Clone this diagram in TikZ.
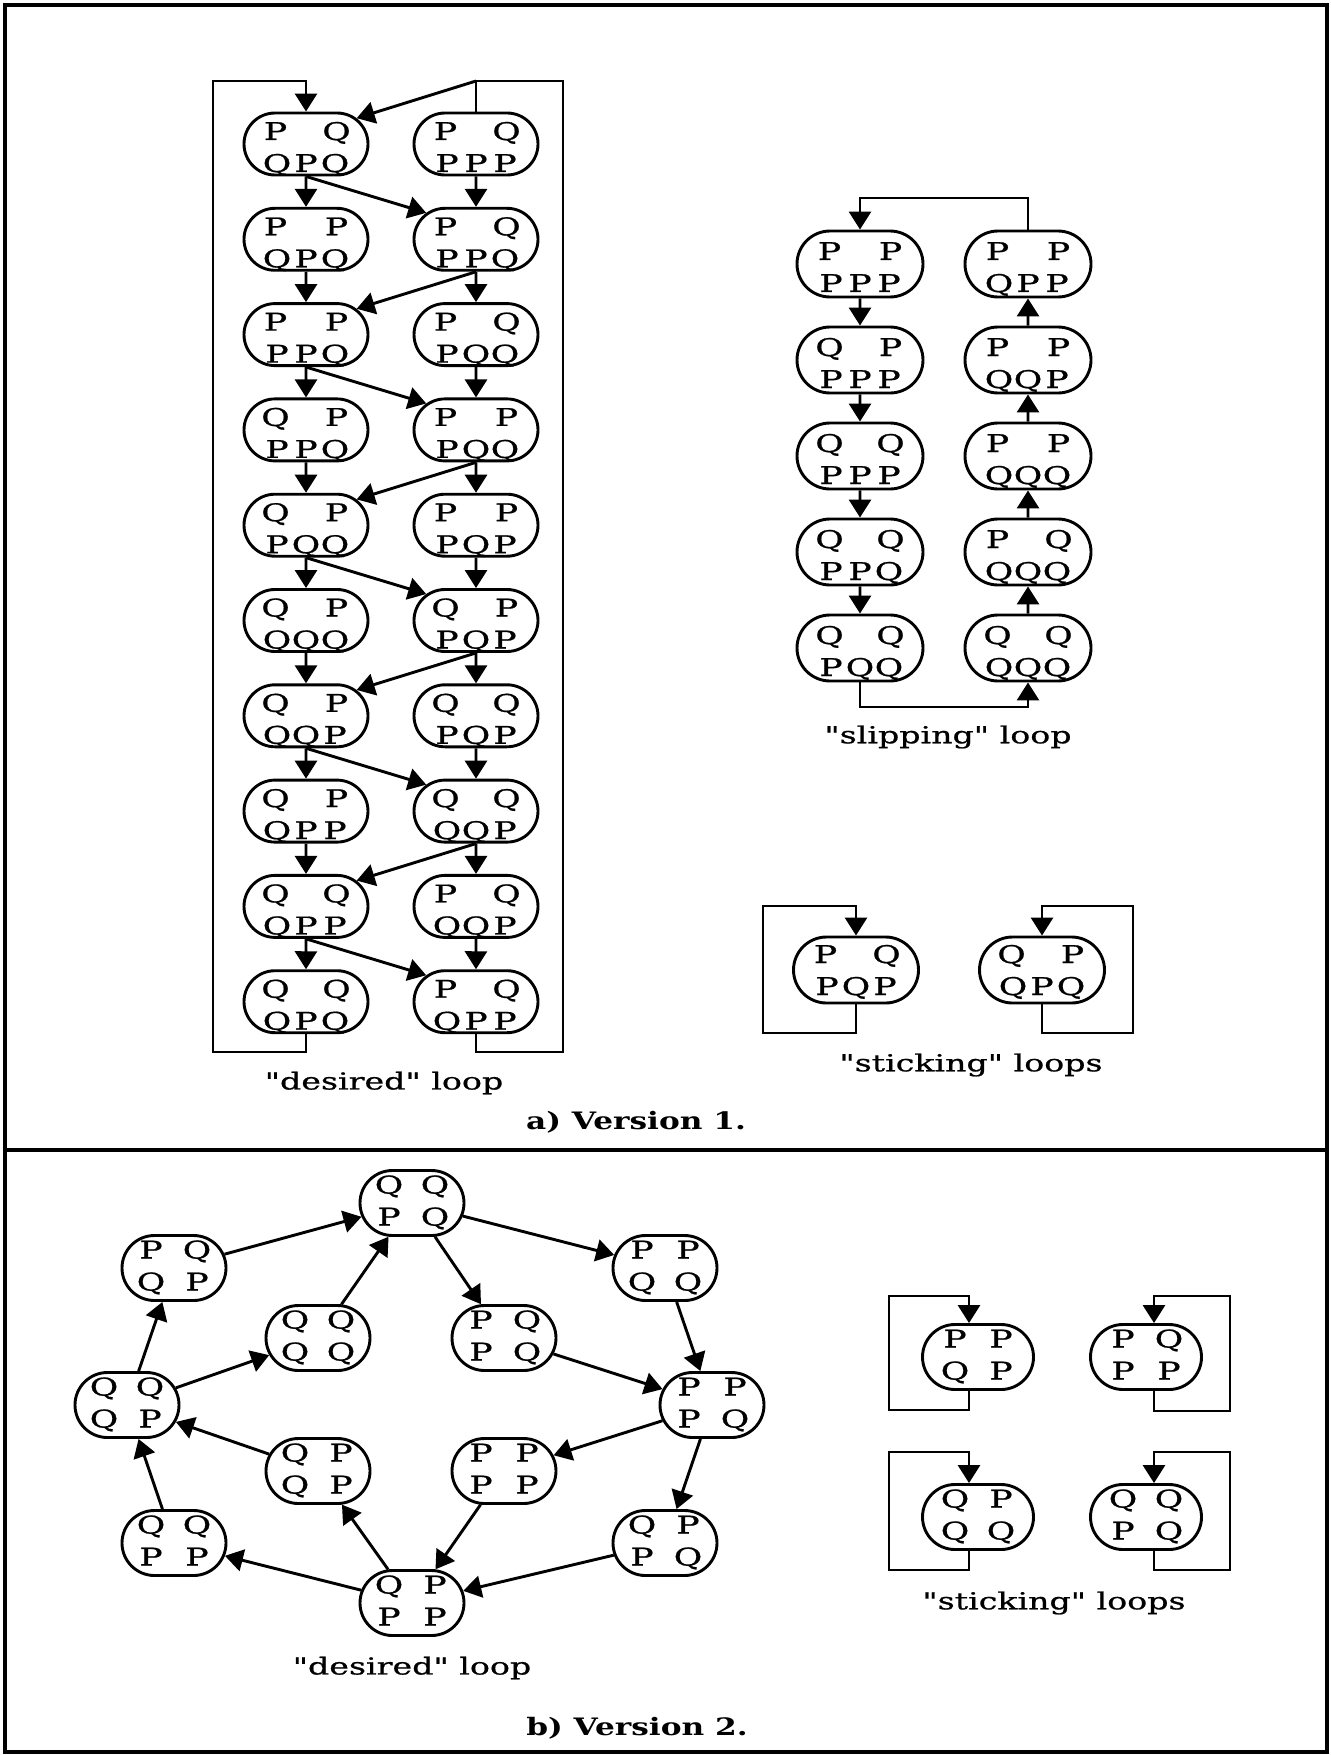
\documentclass[tikz,border=0pt]{standalone}
\usepackage{fontspec}
\setmainfont{DejaVu Serif}[FakeStretch=1.42, FakeBold=0.8, Ligatures=TeXOff]
\newfontfamily\ttlfont{DejaVu Serif}[FakeStretch=1.3, Ligatures=TeXOff]
\usetikzlibrary{arrows.meta,shapes.misc}
\newcommand{\cA}[1]{\makebox[14.5pt]{#1}}
\newcommand{\cAt}[1]{\makebox[16pt]{#1}}
\newcommand{\cB}[1]{\makebox[23pt]{#1}}
\newcommand{\stIII}[8]{\vbox to #2{\offinterlineskip\kern#3\hbox to #1{\hss\smash{\cAt{#4}\cA{}\cAt{#5}}\hss}\kern16pt\hbox to #1{\hss\smash{\cA{#6}\cA{#7}\cA{#8}}\hss}\vss}}
\newcommand{\stII}[7]{\vbox to #2{\offinterlineskip\kern#3\hbox to #1{\hss\smash{\cB{#4}\cB{#5}}\hss}\kern16pt\hbox to #1{\hss\smash{\cB{#6}\cB{#7}}\hss}\vss}}
\newcommand{\da}[5]{\stIII{31pt}{31pt}{13.5pt}{#1}{#2}{#3}{#4}{#5}}
\newcommand{\slp}[5]{\stIII{30pt}{33pt}{14.5pt}{#1}{#2}{#3}{#4}{#5}}
\newcommand{\sta}[5]{\stIII{29.5pt}{33pt}{13pt}{#1}{#2}{#3}{#4}{#5}}
\newcommand{\rb}[4]{\stII{19.5pt}{32.5pt}{11.5pt}{#1}{#2}{#3}{#4}}
\newcommand{\kb}[4]{\stII{23pt}{32.5pt}{11.5pt}{#1}{#2}{#3}{#4}}
\begin{document}
\begin{tikzpicture}[x=0.5pt,y=-0.5pt,
  >={Triangle[length=9pt,width=11pt]},
  state/.style={draw, rounded rectangle, inner sep=0pt, line width=1.45pt,
    font=\fontsize{12.2}{14}\selectfont},
  conn/.style={line width=1.45pt, line join=miter},
  arr/.style={conn,->},
  lbl/.style={inner sep=0pt, font=\fontsize{11.7}{14}\selectfont},
  ttl/.style={inner sep=0pt, font=\ttlfont\bfseries\fontsize{12}{14}\selectfont}]
\useasboundingbox (0,0) rectangle (1331,1755);
\draw[line width=1.7pt] (5,5) rectangle (1327,1752);
\draw[line width=1.7pt] (5,1150) -- (1327,1150);

% ---------- a) desired loop ----------
\node[state] (L1) at (306,144.0) {\da{P}{Q}{Q}{P}{Q}};
\node[state] (R1) at (476,144.0) {\da{P}{Q}{P}{P}{P}};
\node[state] (L2) at (306,239.3) {\da{P}{P}{Q}{P}{Q}};
\node[state] (R2) at (476,239.3) {\da{P}{Q}{P}{P}{Q}};
\node[state] (L3) at (306,334.6) {\da{P}{P}{P}{P}{Q}};
\node[state] (R3) at (476,334.6) {\da{P}{Q}{P}{Q}{Q}};
\node[state] (L4) at (306,429.9) {\da{Q}{P}{P}{P}{Q}};
\node[state] (R4) at (476,429.9) {\da{P}{P}{P}{Q}{Q}};
\node[state] (L5) at (306,525.2) {\da{Q}{P}{P}{Q}{Q}};
\node[state] (R5) at (476,525.2) {\da{P}{P}{P}{Q}{P}};
\node[state] (L6) at (306,620.5) {\da{Q}{P}{Q}{Q}{Q}};
\node[state] (R6) at (476,620.5) {\da{Q}{P}{P}{Q}{P}};
\node[state] (L7) at (306,715.8) {\da{Q}{P}{Q}{Q}{P}};
\node[state] (R7) at (476,715.8) {\da{Q}{Q}{P}{Q}{P}};
\node[state] (L8) at (306,811.1) {\da{Q}{P}{Q}{P}{P}};
\node[state] (R8) at (476,811.1) {\da{Q}{Q}{Q}{Q}{P}};
\node[state] (L9) at (306,906.4) {\da{Q}{Q}{Q}{P}{P}};
\node[state] (R9) at (476,906.4) {\da{P}{Q}{Q}{Q}{P}};
\node[state] (L10) at (306,1001.7) {\da{Q}{Q}{Q}{P}{Q}};
\node[state] (R10) at (476,1001.7) {\da{P}{Q}{Q}{P}{P}};
\foreach \i [count=\j from 2] in {1,...,9}{
  \draw[arr] (L\i) -- (L\j);
  \draw[arr] (R\i) -- (R\j);
}
\draw[arr] (L1.south) -- (R2.152);
\draw[arr] (R2.south) -- (L3.27);
\draw[arr] (L3.south) -- (R4.152);
\draw[arr] (R4.south) -- (L5.27);
\draw[arr] (L5.south) -- (R6.152);
\draw[arr] (R6.south) -- (L7.27);
\draw[arr] (L7.south) -- (R8.152);
\draw[arr] (R8.south) -- (L9.27);
\draw[arr] (L9.south) -- (R10.152);
\coordinate (aBL) at (213,1052);
\coordinate (aTL) at (213,81);
\coordinate (aBR) at (563,1052);
\coordinate (aTR) at (563,81);
\coordinate (jR) at (476,81);
\draw[arr] (L10.south) |- (aBL) -- (aTL) -| (L1.north);
\draw[conn] (R10.south) |- (aBR) -- (aTR) -| (R1.north);
\draw[arr] (jR) -- (L1.27);
\node[lbl] (lda) at (384,1083) {"desired" loop};

% ---------- a) slipping loop ----------
\node[state] (S1) at (860,264) {\slp{P}{P}{P}{P}{P}};
\node[state] (S2) at (860,360) {\slp{Q}{P}{P}{P}{P}};
\node[state] (S3) at (860,456) {\slp{Q}{Q}{P}{P}{P}};
\node[state] (S4) at (860,552) {\slp{Q}{Q}{P}{P}{Q}};
\node[state] (S5) at (860,648) {\slp{Q}{Q}{P}{Q}{Q}};
\node[state] (T1) at (1028,264) {\slp{P}{P}{Q}{P}{P}};
\node[state] (T2) at (1028,360) {\slp{P}{P}{Q}{Q}{P}};
\node[state] (T3) at (1028,456) {\slp{P}{P}{Q}{Q}{Q}};
\node[state] (T4) at (1028,552) {\slp{P}{Q}{Q}{Q}{Q}};
\node[state] (T5) at (1028,648) {\slp{Q}{Q}{Q}{Q}{Q}};
\draw[arr] (S1) -- (S2);
\draw[arr] (S2) -- (S3);
\draw[arr] (S3) -- (S4);
\draw[arr] (S4) -- (S5);
\draw[arr] (T5) -- (T4);
\draw[arr] (T4) -- (T3);
\draw[arr] (T3) -- (T2);
\draw[arr] (T2) -- (T1);
\coordinate (sTL) at (860,198);
\coordinate (sBR) at (1028,707);
\draw[arr] (T1.north) |- (sTL) -- (S1.north);
\draw[arr] (S5.south) |- (sBR) -- (T5.south);
\node[lbl] (lsl) at (948,737) {"slipping" loop};

% ---------- a) sticking loops ----------
\node[state] (K1) at (856,970) {\sta{P}{Q}{P}{Q}{P}};
\node[state] (K2) at (1042,970) {\sta{Q}{P}{Q}{P}{Q}};
\coordinate (kB1) at (763,1033);
\coordinate (kT1) at (763,906);
\coordinate (kB2) at (1133,1033);
\coordinate (kT2) at (1133,906);
\draw[arr] (K1.south) |- (kB1) -- (kT1) -| (K1.north);
\draw[arr] (K2.south) |- (kB2) -- (kT2) -| (K2.north);
\node[lbl] (lsa) at (971,1065) {"sticking" loops};

\node[ttl] (ta) at (636,1122) {a) Version 1.};

% ---------- b) desired loop ----------
\node[state] (B1) at (412,1203) {\rb{Q}{Q}{P}{Q}};
\node[state] (B2) at (174,1268) {\rb{P}{Q}{Q}{P}};
\node[state] (B3) at (665,1268) {\rb{P}{P}{Q}{Q}};
\node[state] (B4) at (318,1338) {\rb{Q}{Q}{Q}{Q}};
\node[state] (B5) at (504,1338) {\rb{P}{Q}{P}{Q}};
\node[state] (B6) at (127,1405) {\rb{Q}{Q}{Q}{P}};
\node[state] (B7) at (712,1405) {\rb{P}{P}{P}{Q}};
\node[state] (B8) at (318,1471) {\rb{Q}{P}{Q}{P}};
\node[state] (B9) at (504,1471) {\rb{P}{P}{P}{P}};
\node[state] (B10) at (174,1543) {\rb{Q}{Q}{P}{P}};
\node[state] (B11) at (665,1543) {\rb{Q}{P}{P}{Q}};
\node[state] (B12) at (412,1603) {\rb{Q}{P}{P}{P}};
\draw[arr] (B2) -- (B1);
\draw[arr] (B1) -- (B3);
\draw[arr] (B3) -- (B7);
\draw[arr] (B7) -- (B11);
\draw[arr] (B11) -- (B12);
\draw[arr] (B12) -- (B10);
\draw[arr] (B10) -- (B6);
\draw[arr] (B6) -- (B2);
\draw[arr] (B6) -- (B4);
\draw[arr] (B4) -- (B1);
\draw[arr] (B1) -- (B5);
\draw[arr] (B5) -- (B7);
\draw[arr] (B7) -- (B9);
\draw[arr] (B9) -- (B12);
\draw[arr] (B12) -- (B8);
\draw[arr] (B8) -- (B6);
\node[lbl] (ldb) at (412,1668) {"desired" loop};

% ---------- b) sticking loops ----------
\node[state] (M1) at (978,1357) {\kb{P}{P}{Q}{P}};
\node[state] (M2) at (1146,1357) {\kb{P}{Q}{P}{P}};
\node[state] (M3) at (978,1517) {\kb{Q}{P}{Q}{Q}};
\node[state] (M4) at (1146,1517) {\kb{Q}{Q}{P}{Q}};
\coordinate (cxL) at (969,0);
\coordinate (cxR) at (1154,0);
\coordinate (mB1) at (889,1410);
\coordinate (mT1) at (889,1296);
\coordinate (mB2) at (1230,1411);
\coordinate (mT2) at (1230,1296);
\coordinate (mB3) at (889,1570);
\coordinate (mT3) at (889,1452);
\coordinate (mB4) at (1230,1570);
\coordinate (mT4) at (1230,1452);
\draw[arr] (M1.south -| cxL) |- (mB1) -- (mT1) -| (M1.north -| cxL);
\draw[arr] (M2.south -| cxR) |- (mB2) -- (mT2) -| (M2.north -| cxR);
\draw[arr] (M3.south -| cxL) |- (mB3) -- (mT3) -| (M3.north -| cxL);
\draw[arr] (M4.south -| cxR) |- (mB4) -- (mT4) -| (M4.north -| cxR);
\node[lbl] (lsb) at (1054,1603) {"sticking" loops};

\node[ttl] (tb) at (637,1728) {b) Version 2.};
\end{tikzpicture}
\end{document}
